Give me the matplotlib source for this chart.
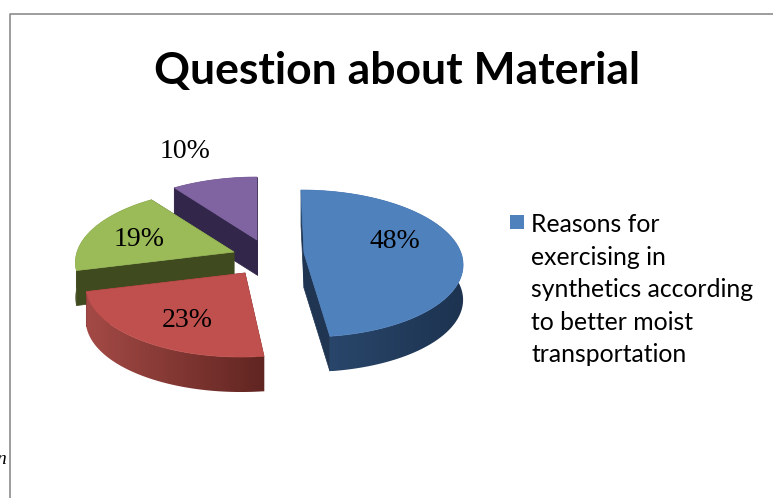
"""Exploded 3D-look pie of the material question, drawn on a pixel-sized canvas."""
import numpy as np
import matplotlib
matplotlib.use("Agg")
import matplotlib.pyplot as plt
from matplotlib.colors import LinearSegmentedColormap
from matplotlib.patches import Polygon, Rectangle

TITLE = "Question about Material"
LEGEND_LINES = ["Reasons for", "exercising in", "synthetics according",
                "to better moist", "transportation"]

values = [48, 23, 19, 10]
labels = ["48%", "23%", "19%", "10%"]
top_colors = ["#4F81BD", "#C0504D", "#9BBB59", "#8064A2"]
cut_colors = ["#1F3552", "#632622", "#3F4A1F", "#32274A"]
# wall shading, left to right
wall_left = ["#2B4A70", "#A44A46", "#3F4A1F", "#32274A"]
wall_right = ["#1D3350", "#612521", "#3F4A1F", "#32274A"]
# apex of every exploded slice, and how far its far/near rim leans sideways
apex_x = [304, 245, 234, 257]
apex_y = [253, 273, 252, 240]
lean = [3, -4, 0, 0]
label_x = [395, 187, 139, 185]
label_y = [241, 320, 239, 151]
# paint order: back slices first so that the front ones cover them
paint_order = [3, 2, 1, 0]

RX, RY, PERSP, DEPTH = 157, 72, 0.143, 35


def rim_point(theta, i):
    # theta runs clockwise from the top; the far side is foreshortened
    u, v = np.sin(theta), np.cos(theta)
    scale = 1 / (1 + PERSP * v)
    return apex_x[i] + RX * u * scale - lean[i] * v, apex_y[i] - RY * v * scale


def draw_wall(ax, i, xs, ys, z):
    outline = list(zip(xs, ys)) + list(zip(xs[::-1], ys[::-1] + DEPTH))
    patch = Polygon(outline, fc="none", ec="none")
    ax.add_patch(patch)
    cmap = LinearSegmentedColormap.from_list("wall", [wall_left[i], wall_right[i]])
    grad = np.linspace(0, 1, 256).reshape(1, -1)
    extent = (xs.min(), xs.max(), ys.max() + DEPTH, ys.min())
    im = ax.imshow(grad, cmap=cmap, extent=extent, aspect="auto", zorder=z)
    im.set_clip_path(patch)


def draw_slice(ax, i, start, stop, z):
    ax0, ay0 = apex_x[i], apex_y[i]
    xs, ys = rim_point(np.linspace(start, stop, 120), i)

    # the two flat cuts, the curved wall goes over them
    for x1, y1 in [(xs[0], ys[0]), (xs[-1], ys[-1])]:
        quad = [(ax0, ay0), (x1, y1), (x1, y1 + DEPTH), (ax0, ay0 + DEPTH)]
        ax.add_patch(Polygon(quad, fc=cut_colors[i], ec=cut_colors[i], lw=0.5, zorder=z))
    draw_wall(ax, i, xs, ys, z + 1)

    top = [(ax0, ay0)] + list(zip(xs, ys))
    ax.add_patch(Polygon(top, fc=top_colors[i], ec=top_colors[i], lw=0.5, zorder=z + 2))


fig = plt.figure(figsize=(7.73, 4.98), dpi=100)
ax = fig.add_axes([0, 0, 1, 1])

# chart area border, only left and top fall on the canvas
ax.plot([10, 10, 773], [498, 14, 14], color="#8C8C8C", lw=1.2)

shares = np.array(values) / sum(values) * 2 * np.pi
stops = np.cumsum(shares)
starts = stops - shares
for order, i in enumerate(paint_order):
    draw_slice(ax, i, starts[i], stops[i], 3 + order * 3)

ax.set_xlim(0, 773)
ax.set_ylim(498, 0)
ax.axis("off")

for txt, x, y in zip(labels, label_x, label_y):
    ax.text(x, y, txt, family="Liberation Serif", fontsize=20, color="black",
            ha="center", va="center", zorder=20)

ax.text(397, 71, TITLE, family="Lato", weight="bold", fontsize=32,
        ha="center", va="center", color="black")

ax.add_patch(Rectangle((510, 215), 14, 14, fc=top_colors[0], ec="none"))
for n, line in enumerate(LEGEND_LINES):
    ax.text(531, 224.5 + n * 32.5, line, family="Lato", fontsize=17.8,
            ha="left", va="center", color="black")

# tail of a body text word cut by the page edge
ax.text(-4, 459, "n", family="Liberation Serif", style="italic", fontsize=14,
        ha="left", va="center", color="black")

fig.savefig("out.png", dpi=100)
